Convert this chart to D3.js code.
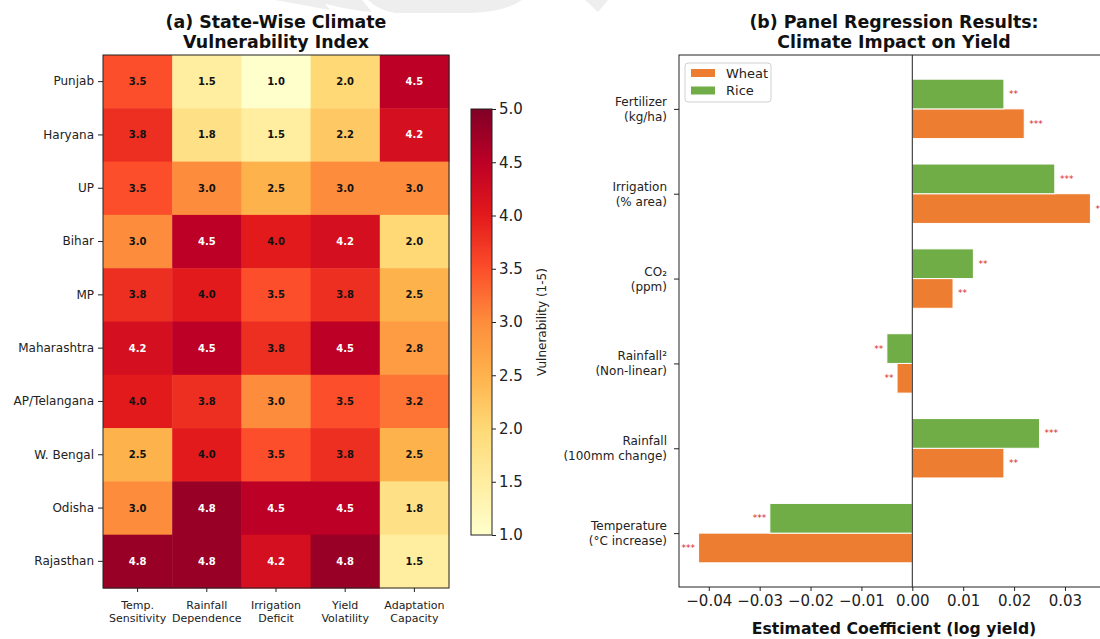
<!DOCTYPE html>
<html>
<head>
<meta charset="utf-8">
<script src="https://cdn.jsdelivr.net/npm/d3@7"></script>
<style>
  html, body { margin: 0; padding: 0; background: #fff; }
  svg { display: block; font-family: "DejaVu Sans", sans-serif; }
</style>
</head>
<body>
<svg id="chart" width="1100" height="639"></svg>
<script>
// ---------------- DATA ----------------
const states = ["Punjab", "Haryana", "UP", "Bihar", "MP", "Maharashtra", "AP/Telangana", "W. Bengal", "Odisha", "Rajasthan"];
const indicators = [["Temp.", "Sensitivity"], ["Rainfall", "Dependence"], ["Irrigation", "Deficit"], ["Yield", "Volatility"], ["Adaptation", "Capacity"]];
const vulnerability = [
  [3.5, 1.5, 1.0, 2.0, 4.5],
  [3.8, 1.8, 1.5, 2.2, 4.2],
  [3.5, 3.0, 2.5, 3.0, 3.0],
  [3.0, 4.5, 4.0, 4.2, 2.0],
  [3.8, 4.0, 3.5, 3.8, 2.5],
  [4.2, 4.5, 3.8, 4.5, 2.8],
  [4.0, 3.8, 3.0, 3.5, 3.2],
  [2.5, 4.0, 3.5, 3.8, 2.5],
  [3.0, 4.8, 4.5, 4.5, 1.8],
  [4.8, 4.8, 4.2, 4.8, 1.5]
];
const colorbarTicks = [1.0, 1.5, 2.0, 2.5, 3.0, 3.5, 4.0, 4.5, 5.0];

const variables = [["Temperature", "(°C increase)"], ["Rainfall", "(100mm change)"], ["Rainfall²", "(Non-linear)"], ["CO₂", "(ppm)"], ["Irrigation", "(% area)"], ["Fertilizer", "(kg/ha)"]];
const wheatCoef = [-0.042, 0.018, -0.003, 0.008, 0.035, 0.022];
const riceCoef  = [-0.028, 0.025, -0.005, 0.012, 0.028, 0.018];
const wheatSig  = ["***", "**", "**", "**", "***", "***"];
const riceSig   = ["***", "***", "**", "**", "***", "**"];
const coefTicks = [-0.04, -0.03, -0.02, -0.01, 0.00, 0.01, 0.02, 0.03];

// ---------------- SETUP ----------------
const svg = d3.select("#chart");
const FONT = "DejaVu Sans";
const ylorrd = ["#ffffcc", "#ffeda0", "#fed976", "#feb24c", "#fd8d3c", "#fc4e2a", "#e31a1c", "#bd0026", "#800026"];
const color = d3.scaleLinear()
  .domain(d3.range(9).map(i => 1 + i * 0.5))
  .range(ylorrd)
  .interpolate(d3.interpolateRgb)
  .clamp(true);

// faint watermark swoosh at the top
svg.append("path")
  .attr("d", "M275,0 L322,0 L330,10 Z M312,0 L362,0 L372,12 Q345,10 312,0 Z M368,0 L522,0 Q505,12 470,13 L395,13 Q378,10 368,0 Z M585,0 L608,0 L598,12 Z")
  .attr("fill", "#eeeeee");

// ---------------- PANEL (a) HEATMAP ----------------
const hx = d3.scaleBand().domain(d3.range(indicators.length)).range([103, 449]);
const hy = d3.scaleBand().domain(states).range([55, 588]);

const ga = svg.append("g");
states.forEach((s, r) => {
  vulnerability[r].forEach((v, c) => {
    ga.append("rect")
      .attr("x", hx(c)).attr("y", hy(s))
      .attr("width", hx.bandwidth() + 0.5).attr("height", hy.bandwidth() + 0.5)
      .attr("fill", color(v));
  });
});
states.forEach((s, r) => {
  vulnerability[r].forEach((v, c) => {
    ga.append("text")
      .attr("x", hx(c) + hx.bandwidth() / 2)
      .attr("y", hy(s) + hy.bandwidth() / 2)
      .attr("text-anchor", "middle").attr("dominant-baseline", "central")
      .attr("font-size", 10).attr("font-weight", "bold")
      .attr("fill", v > 4.0 ? "#ffffff" : "#111111")
      .text(v.toFixed(1));
  });
});
ga.append("rect").attr("x", 103).attr("y", 55).attr("width", 346).attr("height", 533)
  .attr("fill", "none").attr("stroke", "#222").attr("stroke-width", 1);

// y axis labels
const yAxisA = d3.axisLeft(hy).tickSize(5).tickPadding(4);
const yA = svg.append("g").attr("transform", "translate(103,0)").call(yAxisA);
yA.select(".domain").remove();
yA.selectAll("text").attr("font-size", 12).attr("font-family", FONT).attr("fill", "#222");
yA.selectAll("line").attr("stroke", "#222");

// x axis labels (two lines)
const xAxisA = d3.axisBottom(hx).tickSize(4).tickFormat(() => "");
const xA = svg.append("g").attr("transform", "translate(0,588)").call(xAxisA);
xA.select(".domain").remove();
xA.selectAll("line").attr("stroke", "#222");
indicators.forEach((lab, c) => {
  const t = svg.append("text")
    .attr("x", hx(c) + hx.bandwidth() / 2).attr("y", 609)
    .attr("text-anchor", "middle").attr("font-size", 11).attr("fill", "#222");
  t.append("tspan").attr("x", hx(c) + hx.bandwidth() / 2).attr("y", 609).text(lab[0]);
  t.append("tspan").attr("x", hx(c) + hx.bandwidth() / 2).attr("y", 622).text(lab[1]);
});

// title a
const ta = svg.append("text").attr("text-anchor", "middle").attr("font-size", 17.4).attr("font-weight", "bold").attr("fill", "#111");
ta.append("tspan").attr("x", 276).attr("y", 28).text("(a) State-Wise Climate");
ta.append("tspan").attr("x", 276).attr("y", 48).text("Vulnerability Index");

// colorbar
const cbY = d3.scaleLinear().domain([1, 5]).range([535, 109]);
const defs = svg.append("defs");
const grad = defs.append("linearGradient").attr("id", "cbgrad")
  .attr("x1", 0).attr("y1", 1).attr("x2", 0).attr("y2", 0);
ylorrd.forEach((c, i) => grad.append("stop").attr("offset", i / 8).attr("stop-color", c));
svg.append("rect").attr("x", 471).attr("y", 109).attr("width", 21).attr("height", 426)
  .attr("fill", "url(#cbgrad)").attr("stroke", "#222").attr("stroke-width", 1);
const cbAxis = d3.axisRight(cbY).tickValues(colorbarTicks).tickFormat(d3.format(".1f")).tickSize(4).tickPadding(3);
const cbG = svg.append("g").attr("transform", "translate(492,0)").call(cbAxis);
cbG.select(".domain").remove();
cbG.selectAll("text").attr("font-size", 15).attr("font-family", FONT).attr("fill", "#222");
cbG.selectAll("line").attr("stroke", "#222");
svg.append("text").attr("transform", "translate(542,322) rotate(-90)")
  .attr("text-anchor", "middle").attr("dominant-baseline", "central")
  .attr("font-size", 12).attr("fill", "#222").text("Vulnerability (1-5)");

// ---------------- PANEL (b) REGRESSION ----------------
const bx = d3.scaleLinear().domain([-0.04585, 0.03885]).range([679, 1110]);
const by = d3.scaleLinear().domain([-0.635, 5.635]).range([587, 55]);
const barH = 0.35;
const WHEAT = "#ED7D31", RICE = "#70AD47", SIGRED = "#d62728";

const gb = svg.append("g");
function drawBars(vals, sigs, offset, fill) {
  vals.forEach((v, i) => {
    const yc = i + offset;
    gb.append("rect")
      .attr("x", bx(Math.min(0, v))).attr("width", Math.abs(bx(v) - bx(0)))
      .attr("y", by(yc + barH / 2)).attr("height", by(yc - barH / 2) - by(yc + barH / 2))
      .attr("fill", fill).attr("stroke", "#fff").attr("stroke-width", 1);
    gb.append("text")
      .attr("x", v >= 0 ? bx(v + 0.001) : bx(v - 0.0007))
      .attr("y", by(yc))
      .attr("text-anchor", v >= 0 ? "start" : "end")
      .attr("dominant-baseline", "central")
      .attr("font-size", 9).attr("fill", SIGRED)
      .text(sigs[i]);
  });
}
drawBars(wheatCoef, wheatSig, -barH / 2, WHEAT);
drawBars(riceCoef, riceSig, barH / 2, RICE);

// zero line
svg.append("line").attr("x1", bx(0)).attr("x2", bx(0)).attr("y1", 55).attr("y2", 587)
  .attr("stroke", "#222").attr("stroke-width", 1);

// spines
svg.append("rect").attr("x", 679).attr("y", 55).attr("width", 431).attr("height", 532)
  .attr("fill", "none").attr("stroke", "#222").attr("stroke-width", 1);

// x axis
const xAxisB = d3.axisBottom(bx).tickValues(coefTicks).tickFormat(d => d3.format(".2f")(d).replace("-", "\u2212")).tickSize(4).tickPadding(4);
const xB = svg.append("g").attr("transform", "translate(0,587)").call(xAxisB);
xB.select(".domain").remove();
xB.selectAll("text").attr("font-size", 15).attr("font-family", FONT).attr("fill", "#222");
xB.selectAll("line").attr("stroke", "#222");
svg.append("text").attr("x", 894).attr("y", 634).attr("text-anchor", "middle")
  .attr("font-size", 15.7).attr("font-weight", "bold").attr("fill", "#111")
  .text("Estimated Coefficient (log yield)");

// y axis
const yAxisB = d3.axisLeft(by).tickValues(d3.range(variables.length)).tickSize(5).tickFormat(() => "");
const yB = svg.append("g").attr("transform", "translate(679,0)").call(yAxisB);
yB.select(".domain").remove();
yB.selectAll("line").attr("stroke", "#222");
variables.forEach((lab, i) => {
  const t = svg.append("text").attr("text-anchor", "end").attr("font-size", 12).attr("fill", "#222");
  t.append("tspan").attr("x", 667).attr("y", by(i) - 3).text(lab[0]);
  t.append("tspan").attr("x", 667).attr("y", by(i) + 12).text(lab[1]);
});

// title b
const tb = svg.append("text").attr("text-anchor", "middle").attr("font-size", 17.4).attr("font-weight", "bold").attr("fill", "#111");
tb.append("tspan").attr("x", 894).attr("y", 28).text("(b) Panel Regression Results:");
tb.append("tspan").attr("x", 894).attr("y", 48).text("Climate Impact on Yield");

// legend
const lg = svg.append("g");
lg.append("rect").attr("x", 685).attr("y", 63).attr("width", 86).attr("height", 39).attr("rx", 3)
  .attr("fill", "#fff").attr("fill-opacity", 0.8).attr("stroke", "#d0d0d0");
[["Wheat", WHEAT, 73], ["Rice", RICE, 90.5]].forEach(([name, col, yy]) => {
  lg.append("rect").attr("x", 691).attr("y", yy - 4).attr("width", 24).attr("height", 8).attr("fill", col);
  lg.append("text").attr("x", 726).attr("y", yy).attr("dominant-baseline", "central")
    .attr("font-size", 13).attr("fill", "#222").text(name);
});
</script>
</body>
</html>
